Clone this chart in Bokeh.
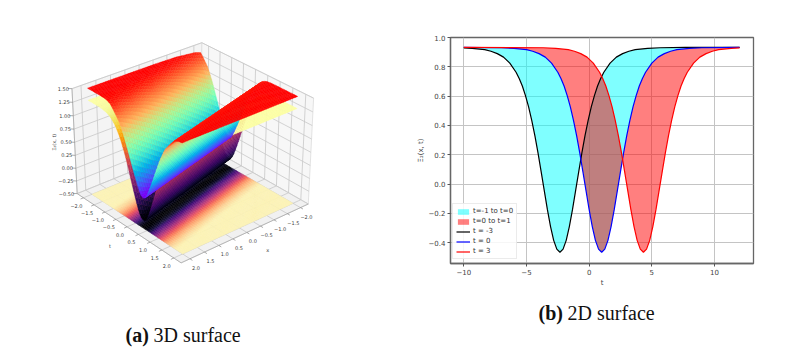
import numpy as np
from bokeh.core.properties import value
from bokeh.embed import file_html
from bokeh.layouts import row, column
from bokeh.models import FixedTicker, Label, Legend, LegendItem, Range1d
from bokeh.palettes import Inferno256, Magma256
from bokeh.plotting import figure
from bokeh.resources import INLINE

# ---- right panel: profiles ----
t_black = [-10, -9.33, -8.33, -7.83, -7.33, -6.83, -6.33, -5.83, -5.58, -5.33, -5.08, -4.83, -4.58, -4.33, -4.08, -3.83, -3.58, -3.33, -3.08, -2.83, -2.58, -2.33, -2.08, -1.83, -1.58, -1.33, -1.08, -0.83, -0.58, -0.33, -0.08, 0.17, 0.42, 0.67, 0.92, 1.17, 1.67, 2.17, 2.67, 3.17, 3.67, 4.67, 5.67, 7.67, 12]
y_black = [0.929, 0.926, 0.917, 0.906, 0.89, 0.866, 0.825, 0.763, 0.72, 0.669, 0.603, 0.527, 0.435, 0.33, 0.213, 0.085, -0.045, -0.175, -0.29, -0.384, -0.444, -0.465, -0.444, -0.384, -0.29, -0.175, -0.045, 0.085, 0.213, 0.33, 0.435, 0.527, 0.603, 0.669, 0.72, 0.763, 0.825, 0.866, 0.89, 0.906, 0.917, 0.926, 0.93, 0.933, 0.933]
t_blue = [-10, -7, -6, -5, -4.5, -4, -3.5, -3, -2.5, -2.25, -2, -1.75, -1.5, -1.25, -1, -0.75, -0.5, -0.25, 0, 0.25, 0.5, 0.75, 1, 1.25, 1.5, 1.75, 2, 2.25, 2.5, 2.75, 3, 3.25, 3.5, 3.75, 4, 4.25, 4.5, 5, 5.5, 6, 6.5, 7, 8, 9, 12]
y_blue = [0.933, 0.93, 0.926, 0.917, 0.906, 0.89, 0.866, 0.825, 0.763, 0.72, 0.669, 0.603, 0.527, 0.435, 0.33, 0.213, 0.085, -0.045, -0.175, -0.29, -0.384, -0.444, -0.465, -0.444, -0.384, -0.29, -0.175, -0.045, 0.085, 0.213, 0.33, 0.435, 0.527, 0.603, 0.669, 0.72, 0.763, 0.825, 0.866, 0.89, 0.906, 0.917, 0.926, 0.93, 0.933]
t_red = [-10, -3.67, -2.67, -1.67, -1.17, -0.67, -0.17, 0.33, 0.83, 1.08, 1.33, 1.58, 1.83, 2.08, 2.33, 2.58, 2.83, 3.08, 3.33, 3.58, 3.83, 4.08, 4.33, 4.58, 4.83, 5.08, 5.33, 5.58, 5.83, 6.08, 6.33, 6.58, 6.83, 7.08, 7.33, 7.58, 7.83, 8.33, 8.83, 9.33, 9.83, 10.33, 11.33, 12]
y_red = [0.933, 0.93, 0.926, 0.917, 0.906, 0.89, 0.866, 0.825, 0.763, 0.72, 0.669, 0.603, 0.527, 0.435, 0.33, 0.213, 0.085, -0.045, -0.175, -0.29, -0.384, -0.444, -0.465, -0.444, -0.384, -0.29, -0.175, -0.045, 0.085, 0.213, 0.33, 0.435, 0.527, 0.603, 0.669, 0.72, 0.763, 0.825, 0.866, 0.89, 0.906, 0.917, 0.926, 0.929]
x_ticks_2d = [-10, -5, 0, 5, 10]
x_tick_labels_2d = ["\u221210", "\u22125", "0", "5", "10"]
y_ticks_2d = [-0.4, -0.2, 0.0, 0.2, 0.4, 0.6, 0.8, 1.0]
y_tick_labels_2d = ["\u22120.4", "\u22120.2", "0.0", "0.2", "0.4", "0.6", "0.8", "1.0"]
legend_labels = ["t=-1 to t=0", "t=0 to t=1", "t = -3", "t = 0", "t = 3"]

# ---- left panel: surface cross-sections ----
valley_x = [-2, -1, 0, 1, 2]
valley_t = [-0.73, -0.46, -0.19, 0.08, 0.35]
profile_offset = [0, 0.1, 0.19, 0.28, 0.38, 0.48, 0.57, 0.66, 0.76, 0.95, 1.14, 1.33, 1.51, 1.71, 1.89, 2.27, 2.66, 3.8, 4.5]
profile_upper = [0.08, 0.11, 0.20, 0.32, 0.45, 0.60, 0.73, 0.86, 1.00, 1.22, 1.35, 1.47, 1.51, 1.52, 1.52, 1.52, 1.52, 1.52, 1.52]
profile_lower = [-0.35, -0.32, -0.24, -0.11, 0.05, 0.22, 0.38, 0.54, 0.70, 0.95, 1.12, 1.22, 1.27, 1.29, 1.30, 1.30, 1.30, 1.30, 1.30]
tick_3d = [-2.0, -1.5, -1.0, -0.5, 0.0, 0.5, 1.0, 1.5, 2.0]
tick_3d_labels = ["\u22122.0", "\u22121.5", "\u22121.0", "\u22120.5", "0.0", "0.5", "1.0", "1.5", "2.0"]
ztick_3d = [-0.5, -0.25, 0.0, 0.25, 0.5, 0.75, 1.0, 1.25, 1.5]
ztick_3d_labels = ["\u22120.50", "\u22120.25", "0.00", "0.25", "0.50", "0.75", "1.00", "1.25", "1.50"]

LIM = 2.3
ZMIN, ZMAX = -0.5, 1.5
ELEV, AZIM = np.radians(30), np.radians(50)
DIST = 10.0
box = np.array([4, 4, 3]) * 1.9057 / np.sqrt(41)
R = box / 2
wv = np.array([np.cos(ELEV) * np.cos(AZIM), np.cos(ELEV) * np.sin(AZIM), np.sin(ELEV)])
E = R + DIST * wv
uv = np.cross([0, 0, 1], wv); uv /= np.linalg.norm(uv)
vv = np.cross(wv, uv)


def proj(x, t, z):
    x, t, z = np.asarray(x, float), np.asarray(t, float), np.asarray(z, float)
    P = np.stack([(x + LIM) / (2 * LIM) * box[0], (t + LIM) / (2 * LIM) * box[1],
                  (z - ZMIN) / (ZMAX - ZMIN) * box[2]], -1) - E
    d = -(P @ wv)
    return (P @ uv) / d, (P @ vv) / d, d


# anchor the projected box on the picture's box corners
corners = [(LIM, -LIM, ZMIN, 76, 198), (LIM, LIM, ZMIN, 182, 260), (-LIM, LIM, ZMIN, 308, 205),
           (LIM, -LIM, ZMAX, 72, 85), (-LIM, -LIM, ZMAX, 200, 47), (-LIM, LIM, ZMAX, 313, 92)]
cp = np.array(corners)
xp, yp, _ = proj(cp[:, 0], cp[:, 1], cp[:, 2])
ax, bx = np.polyfit(xp, cp[:, 3], 1)
ay, by = np.polyfit(yp, cp[:, 4], 1)

LW, RW, H = 396, 395, 350
left = figure(width=LW, height=H, output_backend="svg", toolbar_location=None,
              x_range=Range1d((0 - bx) / ax, (LW - bx) / ax),
              y_range=Range1d((H - by) / ay, (0 - by) / ay),
              min_border=0, outline_line_color=None)
left.axis.visible = False
left.grid.visible = False


def rainbow(f):
    r = np.clip(np.abs(2 * f - 0.5), 0, 1)
    g = np.clip(np.sin(np.pi * f), 0, 1)
    b = np.clip(np.cos(np.pi * f / 2), 0, 1)
    return ["#%02x%02x%02x" % (int(a * 255), int(c * 255), int(e * 255)) for a, c, e in zip(r, g, b)]


def pane(xs, ts, zs, col):
    a, b, _ = proj(xs, ts, zs)
    left.patch(list(a), list(b), fill_color=col, line_color="#dcdcdc", line_width=0.8)


pane([-LIM, LIM, LIM, -LIM], [-LIM] * 4, [ZMIN, ZMIN, ZMAX, ZMAX], "#f4f4f4")
pane([-LIM] * 4, [-LIM, LIM, LIM, -LIM], [ZMIN, ZMIN, ZMAX, ZMAX], "#f7f7f7")
pane([-LIM, LIM, LIM, -LIM], [-LIM, -LIM, LIM, LIM], [ZMIN] * 4, "#f1f1f1")


def seg3d(pts, col="#c8c8c8", w=0.8):
    xs, ys = [], []
    for p0, p1 in pts:
        a, b, _ = proj([p0[0], p1[0]], [p0[1], p1[1]], [p0[2], p1[2]])
        xs.append(list(a)); ys.append(list(b))
    left.multi_line(xs, ys, line_color=col, line_width=w)


grid = []
for v in tick_3d:
    grid += [((v, -LIM, ZMIN), (v, -LIM, ZMAX)), ((v, -LIM, ZMIN), (v, LIM, ZMIN)),
             ((-LIM, v, ZMIN), (-LIM, v, ZMAX)), ((-LIM, v, ZMIN), (LIM, v, ZMIN))]
for v in ztick_3d:
    grid += [((-LIM, -LIM, v), (LIM, -LIM, v)), ((-LIM, -LIM, v), (-LIM, LIM, v))]
seg3d(grid)
seg3d([((LIM, -LIM, ZMIN), (LIM, LIM, ZMIN)), ((LIM, LIM, ZMIN), (-LIM, LIM, ZMIN)),
       ((LIM, -LIM, ZMIN), (LIM, -LIM, ZMAX))], "#aaaaaa", 0.8)
ticks = []
for v in tick_3d:
    ticks += [((LIM, v, ZMIN), (LIM + 0.1, v, ZMIN)), ((v, LIM, ZMIN), (v, LIM + 0.1, ZMIN))]
for v in ztick_3d:
    ticks += [((LIM, -LIM, v), (LIM + 0.08, -LIM - 0.08, v))]
seg3d(ticks, "#777777", 0.6)

NX, NT = 46, 64
xg = np.linspace(-2, 2, NX + 1)
tg = np.linspace(-2, 2, NT + 1)
XX, TT = np.meshgrid(xg, tg, indexing="ij")
off = np.abs(TT - np.interp(XX, valley_x, valley_t))
Zu = np.interp(off, profile_offset, profile_upper)
Zl = np.interp(off, profile_offset, profile_lower)


def surface(Z, colors, Zplot=None):
    Zp = Z if Zplot is None else Zplot
    a, b, d = proj(XX, TT, Zp)
    ii, jj = np.meshgrid(np.arange(NX), np.arange(NT), indexing="ij")
    ii, jj = ii.ravel(), jj.ravel()
    depth = (d[ii, jj] + d[ii + 1, jj] + d[ii, jj + 1] + d[ii + 1, jj + 1]) / 4
    order = np.argsort(-depth)
    ii, jj = ii[order], jj[order]
    fx = np.stack([a[ii, jj], a[ii + 1, jj], a[ii + 1, jj + 1], a[ii, jj + 1]], 1)
    fy = np.stack([b[ii, jj], b[ii + 1, jj], b[ii + 1, jj + 1], b[ii, jj + 1]], 1)
    zc = (Z[ii, jj] + Z[ii + 1, jj] + Z[ii, jj + 1] + Z[ii + 1, jj + 1]) / 4
    cols = colors((zc - Z.min()) / (Z.max() - Z.min()))
    left.patches(fx.tolist(), fy.tolist(), fill_color=cols, line_color=cols, line_width=0.4)


surface(Zl, lambda f: [Magma256[min(250, int(v * 255))] for v in np.clip(f * 1.02, 0, 1)], np.full_like(Zl, -0.5))
surface(Zl, lambda f: [Inferno256[min(255, int(v * 255))] for v in np.clip(f, 0, 1)])
surface(Zu, lambda f: rainbow(np.clip(f, 0, 1)))

TICK_FONT = value("DejaVu Sans")


def tick_text(x3, t3, z3, labels, dx, dy, align="center", size="5px"):
    a, b, _ = proj(x3, t3, z3)
    left.text(list(a), list(b), text=labels, x_offset=dx, y_offset=dy, text_align=align, text_baseline="middle",
              text_font=TICK_FONT, text_font_size=size, text_color="#444444")


tick_text([LIM] * 9, tick_3d, [ZMIN] * 9, tick_3d_labels, -7, 8)
tick_text(tick_3d, [LIM] * 9, [ZMIN] * 9, tick_3d_labels, 6, 9)
tick_text([LIM] * 9, [-LIM] * 9, ztick_3d, ztick_3d_labels, -3, 0, "right")
tick_text([LIM], [0.0], [ZMIN], ["t"], -17, 19)
tick_text([0.0], [LIM], [ZMIN], ["x"], 21, 18)
zl_x, zl_y, _ = proj([LIM], [-LIM], [0.5])
left.text(list(zl_x), list(zl_y), text=["\u039e\u2082(x, t)"], x_offset=-21, angle=np.pi / 2, text_align="center",
          text_baseline="middle", text_font=TICK_FONT, text_font_size="5px", text_color="#444444")


def caption(p, bold, rest, x_bold, x_rest, y):
    for txt, xx, st in ((bold, x_bold, "bold"), (rest, x_rest, "normal")):
        p.add_layout(Label(x=xx, y=y, x_units="data", y_units="data", text=txt, text_font="Liberation Serif",
                           text_font_size="20px", text_font_style=st, text_color="#111111",
                           text_baseline="alphabetic"))


def lx(px):
    return (px - bx) / ax


def ly(py):
    return (py - by) / ay


caption(left, "(a)", "3D surface", lx(125), lx(153), ly(334))

# ---- right panel ----
fl, fr, ft, fb = 450, 753, 37, 263
H1 = 296
xs_per = (714.0 - 463.3) / 20
ys_per = (242.7 - 37.5) / 1.4
xr = Range1d(-10 - (463.3 - fl) / xs_per, -10 + (fr - 463.3) / xs_per)
yr = Range1d(1.0 - (fb - ft) / ys_per, 1.0)
p = figure(width=RW, height=H1, output_backend="svg", toolbar_location=None, x_range=xr, y_range=yr,
           min_border_left=fl - 396, min_border_right=791 - fr, min_border_top=ft,
           min_border_bottom=H1 - fb, x_axis_label="t", y_axis_label="\u039e\u2082(x, t)")
p.outline_line_color = "#666666"
p.outline_line_width = 1.3
for ax_ in (p.xaxis[0], p.yaxis[0]):
    ax_.axis_line_color = "#666666"
    ax_.axis_line_width = 1.3
    ax_.major_tick_line_color = "#555555"
    ax_.major_tick_out = 3
    ax_.major_tick_in = 0
    ax_.minor_tick_line_color = None
    ax_.major_label_standoff = 2
    ax_.axis_label_standoff = 1
    ax_.major_label_text_font = "DejaVu Sans"
    ax_.major_label_text_font_size = "7px"
    ax_.major_label_text_color = "#444444"
    ax_.axis_label_text_font = "DejaVu Sans"
    ax_.axis_label_text_font_size = "7px"
    ax_.axis_label_text_font_style = "normal"
    ax_.axis_label_text_color = "#444444"
p.xaxis[0].ticker = FixedTicker(ticks=x_ticks_2d)
p.yaxis[0].ticker = FixedTicker(ticks=y_ticks_2d)
p.xaxis[0].major_label_overrides = dict(zip(x_ticks_2d, x_tick_labels_2d))
p.yaxis[0].major_label_overrides = dict(zip(y_ticks_2d, y_tick_labels_2d))
p.grid.grid_line_color = "#c4c4c4"
p.grid.grid_line_width = 1

f1 = p.patch(t_black + t_blue[::-1], y_black + y_blue[::-1], fill_color="#00ffff", fill_alpha=0.5, line_color=None)
f2 = p.patch(t_blue + t_red[::-1], y_blue + y_red[::-1], fill_color="#ff0000", fill_alpha=0.5, line_color=None)
l1 = p.line(t_black, y_black, line_color="black", line_width=1.2)
l2 = p.line(t_blue, y_blue, line_color="blue", line_width=1.2)
l3 = p.line(t_red, y_red, line_color="red", line_width=1.2)
leg = Legend(items=[LegendItem(label=lab, renderers=[r]) for lab, r in zip(legend_labels, [f1, f2, l1, l2, l3])],
             location=(2, 4), label_text_font="DejaVu Sans", label_text_font_size="7px", label_text_color="#333333",
             glyph_width=14, glyph_height=7, label_height=7, label_standoff=3, spacing=2, padding=3, margin=0,
             border_line_color="#d8d8d8", background_fill_alpha=0.85)
p.add_layout(leg)

cap = figure(width=RW, height=H - H1, output_backend="svg", toolbar_location=None, min_border=0,
             outline_line_color=None, x_range=Range1d(396, 791), y_range=Range1d(350, H1))
cap.axis.visible = False
cap.grid.visible = False
caption(cap, "(b)", "2D surface", 538, 567, 312)

open("out.html", "w").write(file_html(row(column(left), column(column(p), column(cap), spacing=0), spacing=0), INLINE))
